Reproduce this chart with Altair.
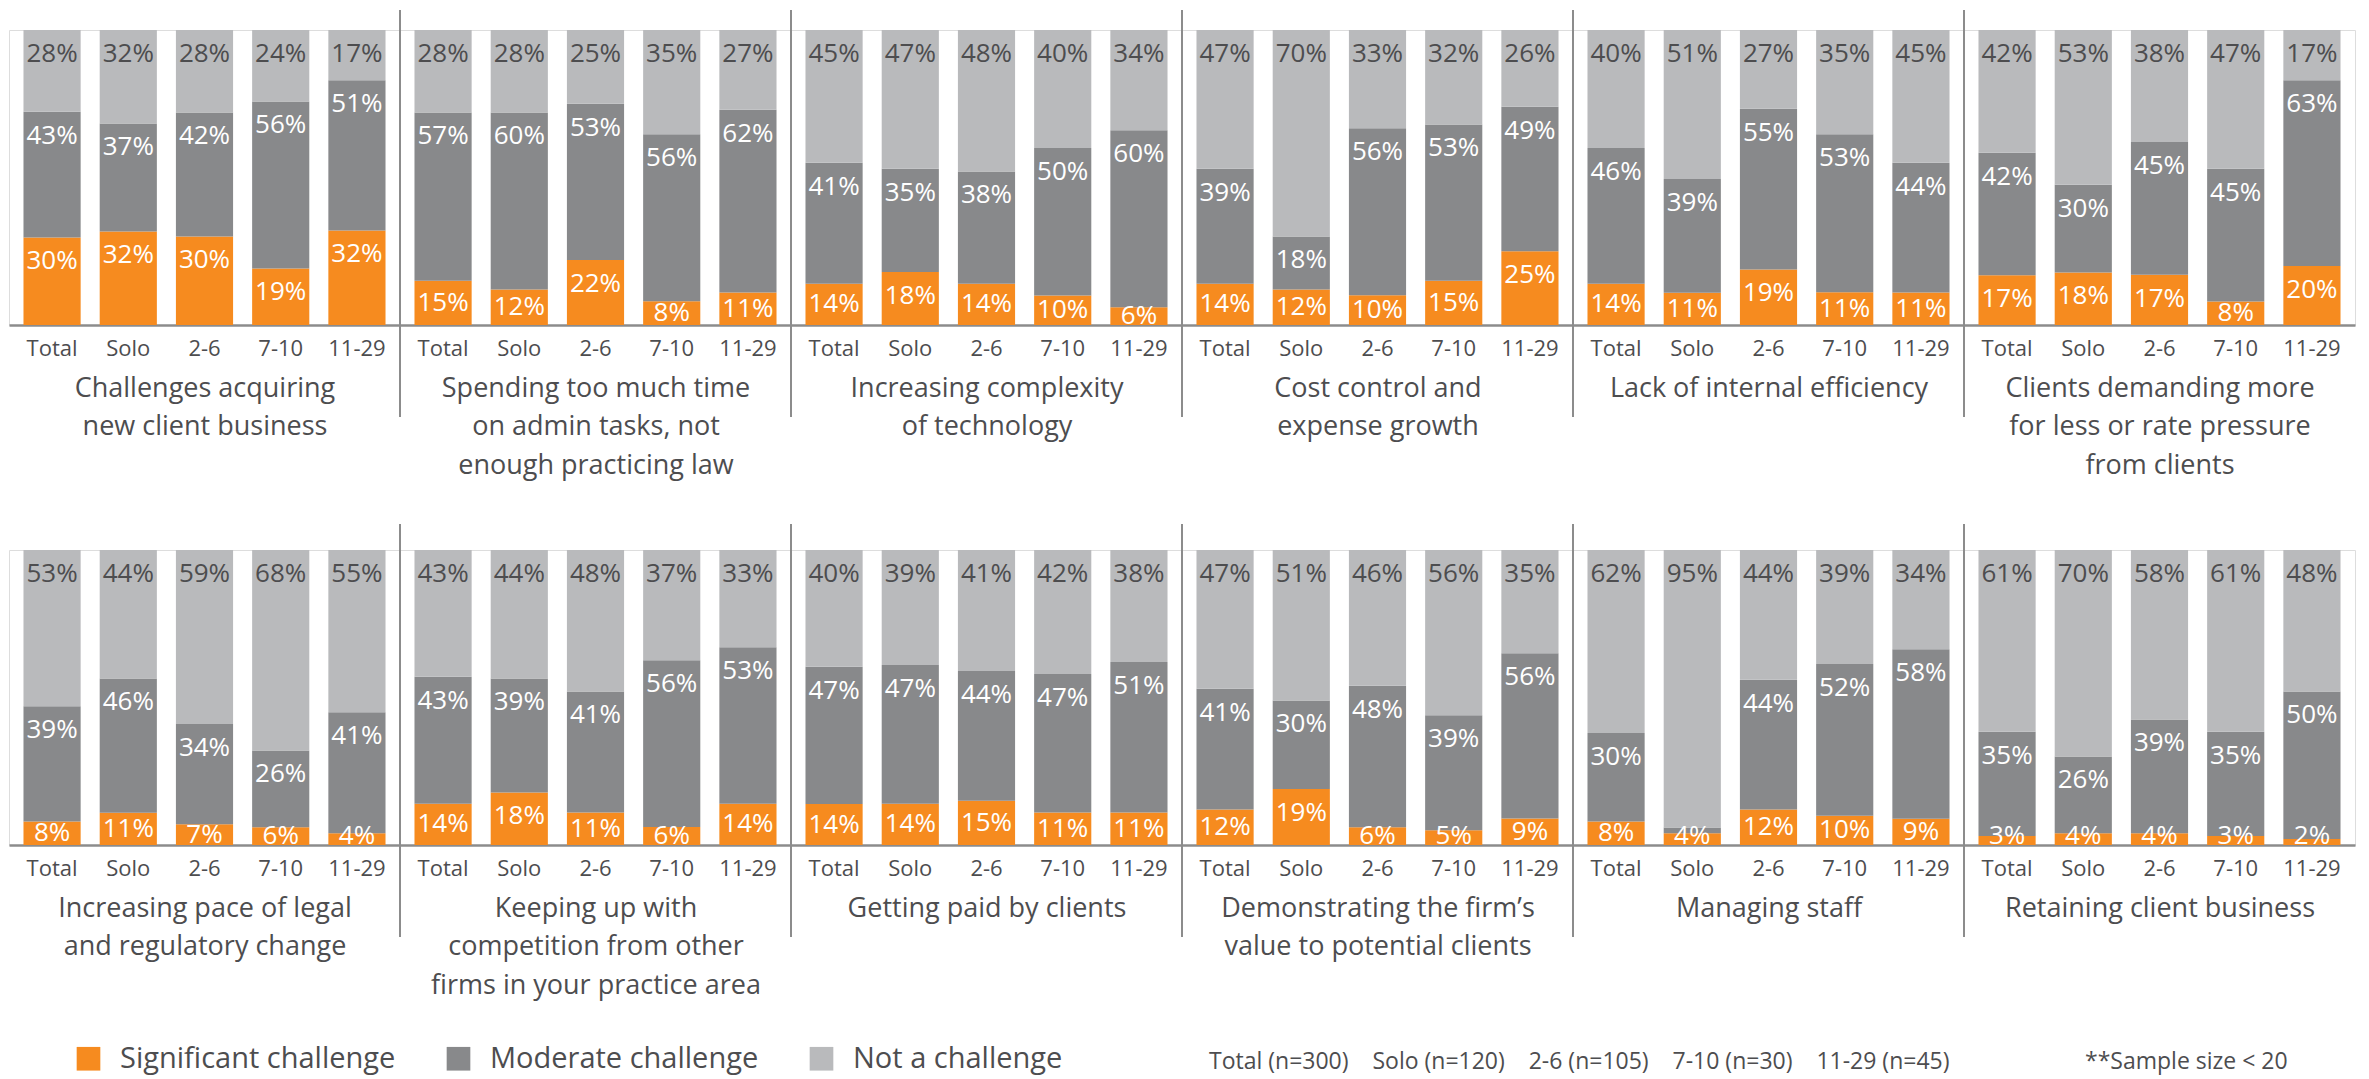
import altair as alt
import pandas as pd

# ---------------- data ----------------
groups = ["Total", "Solo", "2-6", "7-10", "11-29"]
categories = ["Significant challenge", "Moderate challenge", "Not a challenge"]
colors = ["#F68B1F", "#88898B", "#B9BABC"]

titles = [
    ["Challenges acquiring", "new client business"],
    ["Spending too much time", "on admin tasks, not", "enough practicing law"],
    ["Increasing complexity", "of technology"],
    ["Cost control and", "expense growth"],
    ["Lack of internal efficiency"],
    ["Clients demanding more", "for less or rate pressure", "from clients"],
    ["Increasing pace of legal", "and regulatory change"],
    ["Keeping up with", "competition from other", "firms in your practice area"],
    ["Getting paid by clients"],
    ["Demonstrating the firm\u2019s", "value to potential clients"],
    ["Managing staff"],
    ["Retaining client business"],
]

significant = [
    [30, 32, 30, 19, 32],
    [15, 12, 22, 8, 11],
    [14, 18, 14, 10, 6],
    [14, 12, 10, 15, 25],
    [14, 11, 19, 11, 11],
    [17, 18, 17, 8, 20],
    [8, 11, 7, 6, 4],
    [14, 18, 11, 6, 14],
    [14, 14, 15, 11, 11],
    [12, 19, 6, 5, 9],
    [8, 4, 12, 10, 9],
    [3, 4, 4, 3, 2],
]
moderate = [
    [43, 37, 42, 56, 51],
    [57, 60, 53, 56, 62],
    [41, 35, 38, 50, 60],
    [39, 18, 56, 53, 49],
    [46, 39, 55, 53, 44],
    [42, 30, 45, 45, 63],
    [39, 46, 34, 26, 41],
    [43, 39, 41, 56, 53],
    [47, 47, 44, 47, 51],
    [41, 30, 48, 39, 56],
    [30, 2, 44, 52, 58],
    [35, 26, 39, 35, 50],
]
not_challenge = [
    [28, 32, 28, 24, 17],
    [28, 28, 25, 35, 27],
    [45, 47, 48, 40, 34],
    [47, 70, 33, 32, 26],
    [40, 51, 27, 35, 45],
    [42, 53, 38, 47, 17],
    [53, 44, 59, 68, 55],
    [43, 44, 48, 37, 33],
    [40, 39, 41, 42, 38],
    [47, 51, 46, 56, 35],
    [62, 95, 44, 39, 34],
    [61, 70, 58, 61, 48],
]
# labels that the original leaves out (segment too thin)
hidden_labels = [(10, "Solo", "Moderate challenge")]

notes_left = ["Total (n=300)", "Solo (n=120)", "2-6 (n=105)", "7-10 (n=30)", "11-29 (n=45)"]
note_right = "**Sample size < 20"

# ---------------- styling ----------------
FONT = "Open Sans"
TEXT_DARK = "#4D4D4F"
LINE = "#8C8C8C"
PW, PH = 391, 295

series = [significant, moderate, not_challenge]
rows = []
for p in range(len(titles)):
    for gi, g in enumerate(groups):
        for ci, cat in enumerate(categories):
            v = series[ci][p][gi]
            lab = "" if (p, g, cat) in hidden_labels else f"{v}%"
            rows.append(dict(panel=p, group=g, category=cat, order=ci, value=v, label=lab))
data = pd.DataFrame(rows)

legend = alt.Legend(
    title=None, orient="none", legendX=65, legendY=1014, direction="horizontal",
    columns=3, symbolType="square", symbolSize=560, symbolStrokeWidth=0,
    labelFontSize=29, labelColor=TEXT_DARK, labelFont=FONT, labelOffset=17,
    columnPadding=48, padding=0, labelLimit=500,
)


def panel(p):
    row, col = divmod(p, 6)
    df = data[data.panel == p]
    base = alt.Chart(df).transform_stack(
        stack="value", groupby=["group"], as_=["y0", "y1"], offset="normalize",
        sort=[alt.SortField("order", order="ascending")],
    ).transform_calculate(
        pos="max(datum.y1 - 0.081, (datum.y0 + datum.y1) / 2, 0.03)"
    )
    x = alt.X(
        "group:N", sort=groups,
        scale=alt.Scale(paddingInner=0.25, paddingOuter=0.19),
        axis=alt.Axis(
            title=titles[p], labelAngle=0, ticks=False, tickSize=0,
            domainColor=LINE, domainWidth=2.5,
            labelFontSize=22, labelColor=TEXT_DARK, labelFont=FONT,
            labelBaseline="alphabetic", labelPadding=30, labelOverlap=False,
            titleFontSize=27, titleFont=FONT, titleColor=TEXT_DARK,
            titleFontWeight="normal", titleBaseline="alphabetic",
            titleY=71, titleLineHeight=38.5,
        ),
    )
    yscale = alt.Scale(domain=[0, 1], nice=False)
    bars = base.mark_bar().encode(
        x=x,
        y=alt.Y("y0:Q", scale=yscale, axis=None),
        y2="y1:Q",
        color=alt.Color("category:N", sort=categories,
                        scale=alt.Scale(domain=categories, range=colors), legend=legend),
    )
    text = base.mark_text(baseline="middle", align="center", fontSize=26, font=FONT).encode(
        x=x,
        y=alt.Y("pos:Q", scale=yscale, axis=None),
        text="label:N",
        color=alt.condition(alt.datum.category == "Not a challenge",
                            alt.value(TEXT_DARK), alt.value("#FFFFFF")),
    )
    layers = [bars, text]
    if col > 0:
        rule = alt.Chart(pd.DataFrame({"sep": [0]})).mark_rule(
            color=LINE, strokeWidth=2
        ).encode(
            x=alt.value(0),
            y=alt.value(-20 if row == 0 else -26),
            y2=alt.value(387),
        )
        layers.insert(0, rule)
    if p == 6:
        # footnotes along the bottom of the figure
        note_text = ("\u00a0" * 4).join(notes_left)
        layers.append(alt.Chart(pd.DataFrame({"t": [note_text]})).mark_text(
            align="left", baseline="alphabetic", fontSize=23, color=TEXT_DARK, font=FONT
        ).encode(x=alt.value(1200), y=alt.value(519), text="t:N"))
        layers.append(alt.Chart(pd.DataFrame({"t": [note_right]})).mark_text(
            align="left", baseline="alphabetic", fontSize=23, color=TEXT_DARK, font=FONT
        ).encode(x=alt.value(2076), y=alt.value(519), text="t:N"))
    return alt.layer(*layers).properties(width=PW, height=PH)


panels = [panel(p) for p in range(len(titles))]

chart = alt.concat(
    *panels,
    columns=6,
    spacing=alt.RowColnumber(row=225, column=0),
    bounds="flush",
    padding=0,
    background="white",
).configure_view(stroke=None).configure(font=FONT)

chart.save("out.html", embed_options={"renderer": "svg", "actions": False})
